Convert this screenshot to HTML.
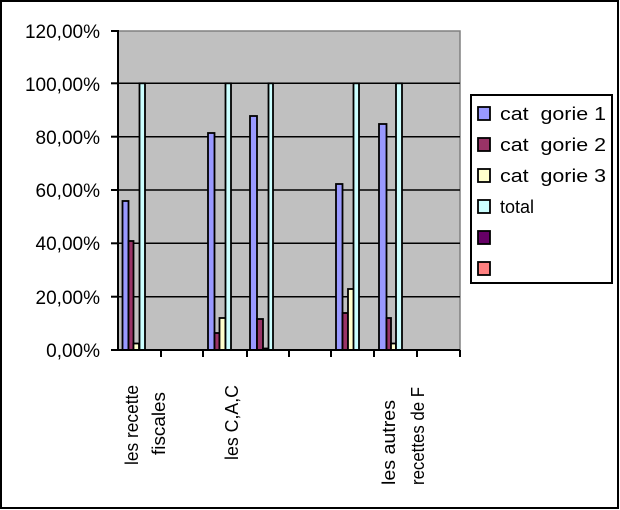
<!DOCTYPE html>
<html><head><meta charset="utf-8"><style>
html,body{margin:0;padding:0;background:#fff}
svg{display:block}
text{font-family:"Liberation Sans",sans-serif;fill:#000;white-space:pre}
</style></head><body>
<svg width="620" height="510" viewBox="0 0 620 510" xmlns="http://www.w3.org/2000/svg" xml:space="preserve">
<rect x="1" y="1" width="617" height="507" fill="#fff" stroke="#000" stroke-width="2"/>
<rect x="118" y="31" width="342" height="319" fill="#c0c0c0" stroke="#808080" stroke-width="1.5"/>
<g stroke="#000" stroke-width="1.5">
<line x1="118" y1="83.3" x2="460" y2="83.3"/>
<line x1="118" y1="136.7" x2="460" y2="136.7"/>
<line x1="118" y1="190" x2="460" y2="190"/>
<line x1="118" y1="243.3" x2="460" y2="243.3"/>
<line x1="118" y1="296.7" x2="460" y2="296.7"/>
</g>
<g stroke="#000" stroke-width="1.8">
<rect x="122.5" y="201" width="6" height="149" fill="#9999ff"/>
<rect x="128.5" y="241" width="5" height="109" fill="#993366"/>
<rect x="133.5" y="343.5" width="5.5" height="6.5" fill="#ffffcc"/>
<rect x="139.5" y="83.3" width="5.5" height="266.7" fill="#ccffff"/>
<rect x="208" y="133" width="6.5" height="217" fill="#9999ff"/>
<rect x="214.5" y="333" width="5" height="17" fill="#993366"/>
<rect x="219.5" y="318" width="6" height="32" fill="#ffffcc"/>
<rect x="225.5" y="83.3" width="5.5" height="266.7" fill="#ccffff"/>
<rect x="250" y="116" width="7" height="234" fill="#9999ff"/>
<rect x="257" y="319" width="6" height="31" fill="#993366"/>
<rect x="263" y="348.5" width="5" height="1.5" fill="#ffffcc"/>
<rect x="268.5" y="83.3" width="4.5" height="266.7" fill="#ccffff"/>
<rect x="336" y="184" width="6.5" height="166" fill="#9999ff"/>
<rect x="342.5" y="313" width="5.5" height="37" fill="#993366"/>
<rect x="348" y="289" width="6" height="61" fill="#ffffcc"/>
<rect x="353.5" y="83.3" width="5.5" height="266.7" fill="#ccffff"/>
<rect x="379" y="124" width="7.5" height="226" fill="#9999ff"/>
<rect x="386.5" y="318" width="4.5" height="32" fill="#993366"/>
<rect x="391" y="343.5" width="5" height="6.5" fill="#ffffcc"/>
<rect x="396" y="83.3" width="6" height="266.7" fill="#ccffff"/>
</g>
<g stroke="#000" stroke-width="2">
<line x1="118" y1="30" x2="118" y2="351"/>
<line x1="117" y1="350" x2="460" y2="350"/>
<line x1="111" y1="31" x2="118" y2="31"/>
<line x1="111" y1="83.3" x2="118" y2="83.3"/>
<line x1="111" y1="136.7" x2="118" y2="136.7"/>
<line x1="111" y1="190" x2="118" y2="190"/>
<line x1="111" y1="243.3" x2="118" y2="243.3"/>
<line x1="111" y1="296.7" x2="118" y2="296.7"/>
<line x1="111" y1="350" x2="118" y2="350"/>
<line x1="161" y1="350" x2="161" y2="357"/>
<line x1="203" y1="350" x2="203" y2="357"/>
<line x1="247" y1="350" x2="247" y2="357"/>
<line x1="289" y1="350" x2="289" y2="357"/>
<line x1="331" y1="350" x2="331" y2="357"/>
<line x1="374" y1="350" x2="374" y2="357"/>
<line x1="417" y1="350" x2="417" y2="357"/>
<line x1="460" y1="350" x2="460" y2="357"/>
</g>
<g font-size="19" text-anchor="end">
<text x="100" y="38">120,00%</text>
<text x="100" y="91">100,00%</text>
<text x="100" y="144">80,00%</text>
<text x="100" y="197">60,00%</text>
<text x="100" y="250">40,00%</text>
<text x="100" y="304">20,00%</text>
<text x="100" y="357">0,00%</text>
</g>
<g font-size="18">
<text transform="translate(138,465) rotate(-90)" textLength="80" lengthAdjust="spacingAndGlyphs">les recette</text>
<text transform="translate(165,455) rotate(-90)" textLength="63" lengthAdjust="spacingAndGlyphs">fiscales</text>
<text transform="translate(238,460) rotate(-90)" textLength="75" lengthAdjust="spacingAndGlyphs">les C,A,C</text>
<text transform="translate(395,485) rotate(-90)" textLength="85" lengthAdjust="spacingAndGlyphs">les autres</text>
<text transform="translate(424,485) rotate(-90)" textLength="98" lengthAdjust="spacingAndGlyphs">recettes de F</text>
</g>
<rect x="471" y="95" width="141" height="188" fill="#fff" stroke="#000" stroke-width="2"/>
<g stroke="#000" stroke-width="1.8">
<rect x="478" y="107" width="12" height="13" fill="#9999ff"/>
<rect x="478" y="138" width="12" height="13" fill="#993366"/>
<rect x="478" y="169" width="12" height="13" fill="#ffffcc"/>
<rect x="478" y="200" width="12" height="13" fill="#ccffff"/>
<rect x="478" y="231" width="12" height="13" fill="#660066"/>
<rect x="478" y="262" width="12" height="13" fill="#ff8080"/>
</g>
<g font-size="18">
<text x="500" y="120" textLength="106" lengthAdjust="spacingAndGlyphs">cat  gorie 1</text>
<text x="500" y="151" textLength="106" lengthAdjust="spacingAndGlyphs">cat  gorie 2</text>
<text x="500" y="182" textLength="106" lengthAdjust="spacingAndGlyphs">cat  gorie 3</text>
<text x="500" y="213">total</text>
</g>
</svg>
</body></html>
